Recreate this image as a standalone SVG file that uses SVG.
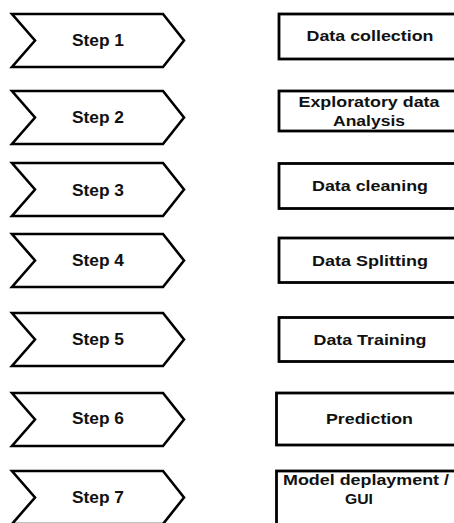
<svg xmlns="http://www.w3.org/2000/svg" width="454" height="523" viewBox="0 0 454 523">
  <style>
    .chev { fill: #ffffff; stroke: #000000; stroke-width: 2.6; stroke-linejoin: miter; }
    .box { fill: #ffffff; stroke: #000000; stroke-width: 2.8; }
    .lbl { font-family: "Liberation Sans", Arial, sans-serif; font-weight: bold; font-size: 15.5px; fill: #111111; text-anchor: middle; }
    .step { font-size: 16px; }
  </style>
  <rect width="454" height="523" fill="#ffffff"/>

  <!-- step chevrons -->
  <g id="step1">
    <path class="chev" d="M12,14 L163,14 L184,40.5 L163,67 L12,67 L35,40.5 Z"/>
    <text class="lbl step" x="98" y="46" textLength="52" lengthAdjust="spacingAndGlyphs">Step 1</text>
  </g>
  <g id="step2">
    <path class="chev" d="M12,91 L163,91 L184,117.5 L163,144 L12,144 L35,117.5 Z"/>
    <text class="lbl step" x="98" y="123" textLength="52" lengthAdjust="spacingAndGlyphs">Step 2</text>
  </g>
  <g id="step3">
    <path class="chev" d="M12,163 L163,163 L184,189.5 L163,216 L12,216 L35,189.5 Z"/>
    <text class="lbl step" x="98" y="195.5" textLength="52" lengthAdjust="spacingAndGlyphs">Step 3</text>
  </g>
  <g id="step4">
    <path class="chev" d="M12,234 L163,234 L184,260.5 L163,287 L12,287 L35,260.5 Z"/>
    <text class="lbl step" x="98" y="266" textLength="52" lengthAdjust="spacingAndGlyphs">Step 4</text>
  </g>
  <g id="step5">
    <path class="chev" d="M12,313 L163,313 L184,339.5 L163,366 L12,366 L35,339.5 Z"/>
    <text class="lbl step" x="98" y="345" textLength="52" lengthAdjust="spacingAndGlyphs">Step 5</text>
  </g>
  <g id="step6">
    <path class="chev" d="M12,393 L163,393 L184,419.5 L163,446 L12,446 L35,419.5 Z"/>
    <text class="lbl step" x="98" y="424" textLength="52" lengthAdjust="spacingAndGlyphs">Step 6</text>
  </g>
  <g id="step7">
    <path class="chev" d="M12,471 L163,471 L184,497.5 L163,524 L12,524 L35,497.5 Z"/>
    <text class="lbl step" x="98" y="503" textLength="52" lengthAdjust="spacingAndGlyphs">Step 7</text>
  </g>

  <!-- task boxes (right edges run past the canvas) -->
  <g id="task1">
    <rect class="box" x="279" y="14" width="190" height="45"/>
    <text class="lbl" x="370" y="41" textLength="127" lengthAdjust="spacingAndGlyphs">Data collection</text>
  </g>
  <g id="task2">
    <rect class="box" x="279" y="91" width="190" height="40"/>
    <text class="lbl" x="369" y="107" textLength="141" lengthAdjust="spacingAndGlyphs">Exploratory data</text>
    <text class="lbl" x="369" y="125.5" textLength="72" lengthAdjust="spacingAndGlyphs">Analysis</text>
  </g>
  <g id="task3">
    <rect class="box" x="279" y="163.5" width="190" height="45"/>
    <text class="lbl" x="370" y="191" textLength="116" lengthAdjust="spacingAndGlyphs">Data cleaning</text>
  </g>
  <g id="task4">
    <rect class="box" x="279" y="238" width="190" height="44.5"/>
    <text class="lbl" x="370" y="265.5" textLength="116" lengthAdjust="spacingAndGlyphs">Data Splitting</text>
  </g>
  <g id="task5">
    <rect class="box" x="279" y="317.5" width="190" height="44"/>
    <text class="lbl" x="370" y="345" textLength="113" lengthAdjust="spacingAndGlyphs">Data Training</text>
  </g>
  <g id="task6">
    <rect class="box" x="276.5" y="393" width="190" height="52"/>
    <text class="lbl" x="369.5" y="423.5" textLength="87" lengthAdjust="spacingAndGlyphs">Prediction</text>
  </g>
  <g id="task7">
    <rect class="box" x="276.5" y="471" width="190" height="60"/>
    <text class="lbl" x="366" y="485" textLength="166" lengthAdjust="spacingAndGlyphs">Model deplayment /</text>
    <text class="lbl" x="359" y="503.5" textLength="28" lengthAdjust="spacingAndGlyphs">GUI</text>
  </g>

  <!-- no connectors are drawn between the shapes -->
  <g id="connectors"/>
</svg>
